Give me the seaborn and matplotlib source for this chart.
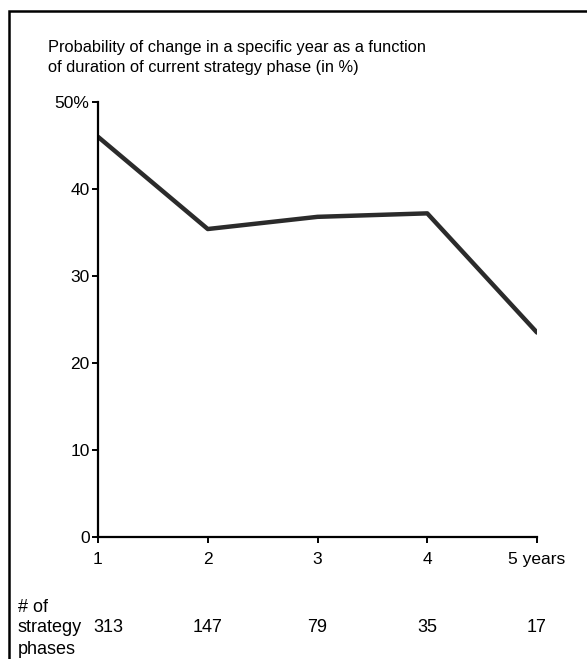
# line chart: probability of strategy change by phase duration

import matplotlib.pyplot as plt
import seaborn as sns
import pandas as pd
from matplotlib.patches import Rectangle

years = [1, 2, 3, 4, 5]
year_labels = ['1', '2', '3', '4', '5 years']
prob_change = [46.0, 35.4, 36.8, 37.2, 23.5]
n_phases = [313, 147, 79, 35, 17]
y_ticks = [0, 10, 20, 30, 40, 50]
y_labels = ['0', '10', '20', '30', '40', '50%']

df = pd.DataFrame({'year': years, 'prob': prob_change})

sns.set_style('white')
plt.rcParams['font.family'] = ['Liberation Sans', 'DejaVu Sans']
plt.rcParams['text.color'] = 'black'

fig = plt.figure(figsize=(5.87, 6.59), dpi=100)
ax = fig.add_axes([98 / 587, 1 - 537 / 659, (537 - 98) / 587, (537 - 102) / 659])

sns.lineplot(data=df, x='year', y='prob', ax=ax, color='#2b2b2b', linewidth=3.2)

ax.set_xlim(1, 5)
ax.set_ylim(0, 50)
ax.set_xticks(years)
ax.set_xticklabels(year_labels, fontsize=12.5)
ax.set_yticks(y_ticks)
ax.set_yticklabels(y_labels, fontsize=12.5)
ax.set_xlabel('')
ax.set_ylabel('')
sns.despine(ax=ax)
for s in ['left', 'bottom']:
    ax.spines[s].set_color('black')
    ax.spines[s].set_linewidth(1.6)
    ax.spines[s].set_zorder(5)
ax.tick_params(axis='both', direction='out', length=4, width=1.4, color='black',
               labelcolor='black', left=True, bottom=True)
ax.tick_params(axis='x', pad=7)
ax.tick_params(axis='y', pad=2)

# title
fig.text(48 / 587, 1 - 40 / 659,
         'Probability of change in a specific year as a function\nof duration of current strategy phase (in %)',
         fontsize=11.8, va='top', ha='left', linespacing=1.4)

# counts row below axis
fig.text(18 / 587, 1 - 608 / 659, '# of', fontsize=13, va='center', ha='left')
fig.text(18 / 587, 1 - 628 / 659, 'strategy', fontsize=13, va='center', ha='left')
fig.text(18 / 587, 1 - 650 / 659, 'phases', fontsize=13, va='center', ha='left')
for i, (yr, n) in enumerate(zip(years, n_phases)):
    xpos = yr + (0.09 if i == 0 else 0)
    xd = ax.transData.transform((xpos, 0))[0]
    fig.text(xd / fig.dpi / fig.get_figwidth(), 1 - 628 / 659, str(n),
             fontsize=13, ha='center', va='center')

# outer frame, cut at right and bottom
fig.patches.append(Rectangle((9 / 587, -0.1), 1.2, 1.1 - 11 / 659, transform=fig.transFigure,
                             fill=False, edgecolor='black', linewidth=1.8))

plt.savefig('out.png', dpi=100)
